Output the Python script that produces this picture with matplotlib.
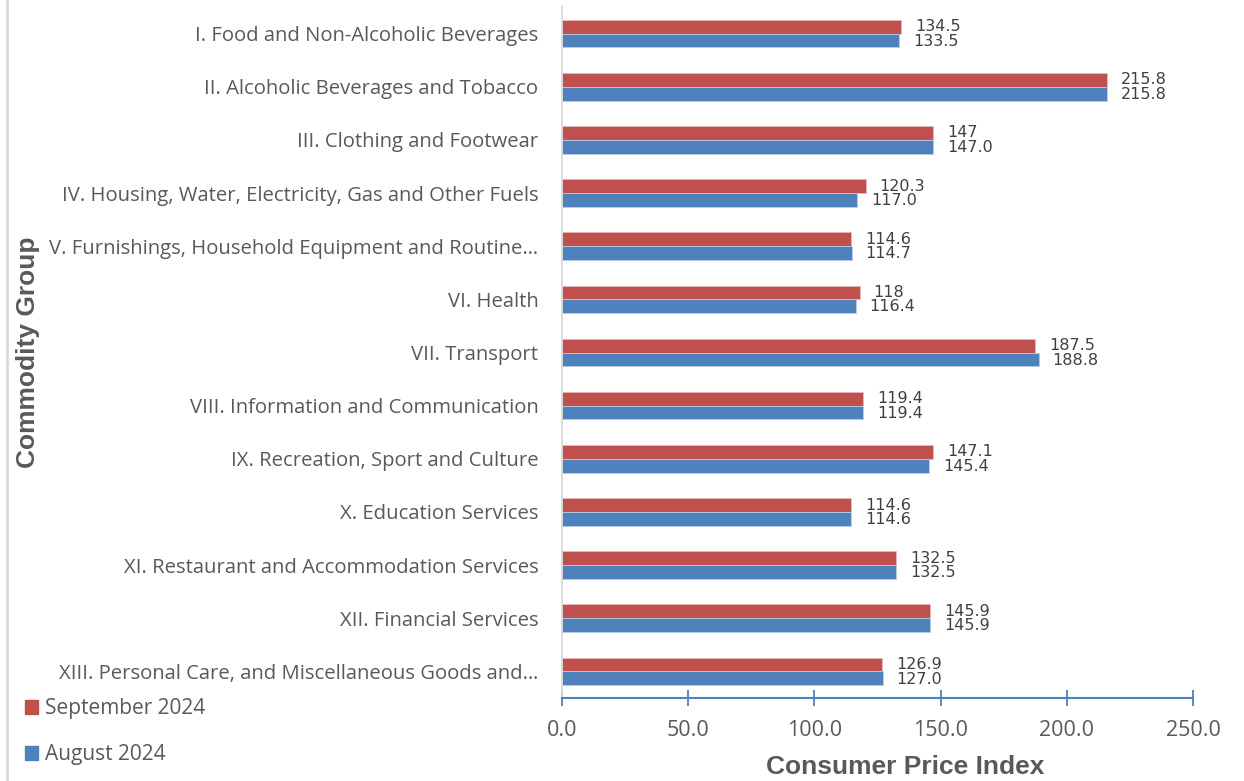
import matplotlib.pyplot as plt
import numpy as np
from matplotlib.patches import Patch

categories = [
    'I. Food and Non-Alcoholic Beverages',
    'II. Alcoholic Beverages and Tobacco',
    'III. Clothing and Footwear',
    'IV. Housing, Water, Electricity, Gas and Other Fuels',
    'V. Furnishings, Household Equipment and Routine\u2026',
    'VI. Health',
    'VII. Transport',
    'VIII. Information and Communication',
    'IX. Recreation, Sport and Culture',
    'X. Education Services',
    'XI. Restaurant and Accommodation Services',
    'XII. Financial Services',
    'XIII. Personal Care, and Miscellaneous Goods and\u2026',
]
september = [134.5, 215.8, 147, 120.3, 114.6, 118, 187.5, 119.4, 147.1, 114.6, 132.5, 145.9, 126.9]
august = [133.5, 215.8, 147.0, 117.0, 114.7, 116.4, 188.8, 119.4, 145.4, 114.6, 132.5, 145.9, 127.0]
sep_labels = ['134.5', '215.8', '147', '120.3', '114.6', '118', '187.5', '119.4', '147.1', '114.6', '132.5', '145.9', '126.9']
aug_labels = [f'{v:.1f}' for v in august]

red = '#C0504D'
blue = '#4F81BD'
grey = '#595959'
font = 'Open Sans'

fig = plt.figure(figsize=(12.44, 7.81), dpi=100)
ax = fig.add_axes([562 / 1244, 1 - 698 / 781, (1193 - 562) / 1244, (698 - 7) / 781])

y = np.arange(len(categories))
h = 0.26
ax.barh(y - h / 2, september, height=h, color=red, edgecolor='#E6B9B8', linewidth=0.6)
ax.barh(y + h / 2, august, height=h, color=blue, edgecolor='#B9CDE5', linewidth=0.6)

for i in range(len(categories)):
    ax.annotate(sep_labels[i], (september[i], y[i]), xytext=(10, 5), textcoords='offset points',
                ha='left', va='center', fontsize=11.5, color='#404040')
    ax.annotate(aug_labels[i], (august[i], y[i]), xytext=(10, -5.5), textcoords='offset points',
                ha='left', va='center', fontsize=11.5, color='#404040')

ax.set_xlim(0, 250)
ax.set_ylim(len(categories) - 0.5, -0.5)
ax.set_yticks(y)
ax.set_yticklabels(categories, fontsize=14.6, color=grey, family=font)
ax.tick_params(axis='y', length=0, pad=17)
ax.set_xticks(np.arange(0, 251, 50))
ax.set_xticklabels([f'{v:.1f}' for v in np.arange(0, 251, 50)], fontsize=15.5, color=grey, family=font)
ax.tick_params(axis='x', direction='inout', length=11, width=1.3, color=blue, pad=10)

for s in ['top', 'right']:
    ax.spines[s].set_visible(False)
ax.spines['left'].set_color('#D9D9D9')
ax.spines['left'].set_linewidth(1.3)
ax.spines['bottom'].set_color(blue)
ax.spines['bottom'].set_linewidth(1.5)

ax.set_xlabel('Consumer Price Index', fontsize=19, fontweight='bold', color=grey,
              family='Liberation Sans')
ax.xaxis.set_label_coords((905 - 562) / 631, -0.083)
fig.text(28 / 1244, 1 - 352 / 781, 'Commodity Group', rotation=90, ha='center', va='center',
         fontsize=19, fontweight='bold', color=grey, family='Liberation Sans')

handles = [Patch(color=red, label='September 2024'), Patch(color=blue, label='August 2024')]
fig.legend(handles=handles, loc='lower left', bbox_to_anchor=(6 / 1244, -3 / 781), frameon=False,
           prop={'family': font, 'size': 15}, labelcolor=grey, handlelength=0.65, handleheight=0.65,
           handletextpad=0.3, labelspacing=1.2)

fig.add_artist(plt.Line2D([7 / 1244, 7 / 1244], [0, 1], color='#D9D9D9', linewidth=2))

fig.savefig('out.png', dpi=100)
